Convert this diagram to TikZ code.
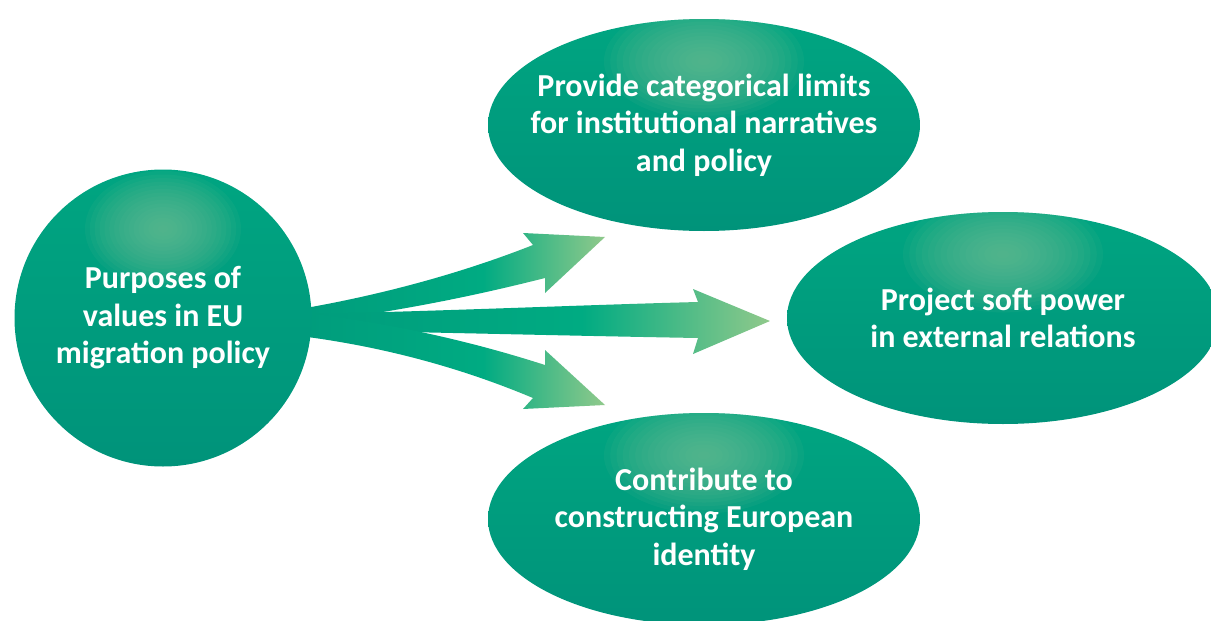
\documentclass[tikz,border=0pt]{standalone}
\usepackage{fontspec}
\setmainfont{Carlito}
\usetikzlibrary{shapes.geometric,calc}
\definecolor{Leaf}{HTML}{00A581}
\definecolor{Pine}{HTML}{00937A}
\definecolor{Glow}{HTML}{6CBE96}
\definecolor{ArrowDark}{HTML}{009C7C}
\definecolor{ArrowMid}{HTML}{00AB82}
\definecolor{ArrowLight}{HTML}{90C98B}
% dark tail, light head
\pgfdeclarehorizontalshading{arrowfade}{100bp}{color(0bp)=(ArrowDark); color(25bp)=(ArrowDark);
  color(55bp)=(ArrowMid); color(75bp)=(ArrowLight); color(100bp)=(ArrowLight)}

\begin{document}
\begin{tikzpicture}[x=1pt,y=-1pt,
  % soft highlight built from stacked translucent ellipses
  bubble/.style 2 args={top color=Leaf,bottom color=Pine,text=white,align=center,inner sep=0pt,
   font=\fontsize{32}{37.5}\selectfont\bfseries,
   path picture={\foreach \k in {1,...,16}
     \fill[Glow,fill opacity=.09]
       ($(path picture bounding box.north)!.2!(path picture bounding box.south)$)
       ellipse ({#1*\k/16} and {#2*\k/16});}},
  oval/.style={bubble={100}{58},ellipse,inner xsep=-40pt,minimum width=432pt,minimum height=212pt},
  blockarrow/.style={shading=arrowfade}]
  \useasboundingbox (0,0) rectangle (1211,621);

  % three fat arrows, drawn first so the circle hides their tails
  \shade[blockarrow] (300,309) .. controls (410,290) and (490,262) .. (533,245)
    -- (523,233) -- (605,237) -- (545,293) -- (545,278)
    .. controls (470,297) and (395,312) .. (300,324) -- cycle;
  \shade[blockarrow] (300,314) .. controls (420,312) and (580,305) .. (698,302)
    -- (693,289) -- (770,321) -- (693,354) -- (698,338)
    .. controls (580,336) and (420,332) .. (300,330) -- cycle;
  \shade[blockarrow] (300,312) .. controls (395,324) and (470,341) .. (545,365)
    -- (545,350) -- (605,405) -- (523,409) -- (533,398)
    .. controls (490,380) and (410,350) .. (300,336) -- cycle;

  \node[bubble={78}{58},circle,minimum size=297pt] (purpose) at (163,318)
    {Purposes of\\values in EU\\migration policy};
  \node[oval] (limits) at (704,125)
    {Provide categorical limits\\for institutional narratives\\and policy};
  \node[oval] (soft) at (1003,318)
    {Project soft power\\in external relations};
  \node[oval] (identity) at (704,519)
    {Contribute to\\constructing European\\identity};
\end{tikzpicture}
\end{document}
